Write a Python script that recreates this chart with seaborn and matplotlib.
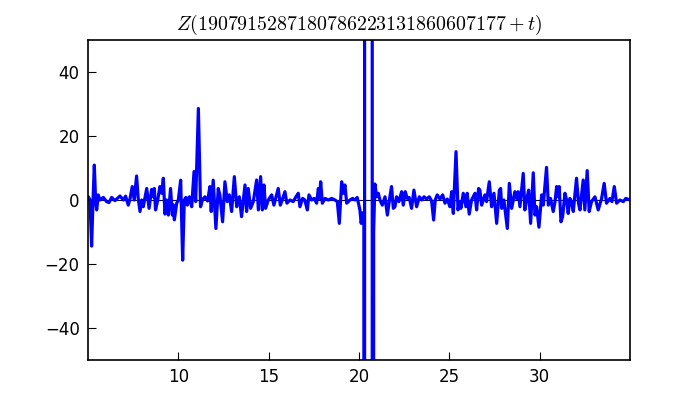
import matplotlib
matplotlib.use("Agg")
import matplotlib.pyplot as plt
import seaborn as sns
import pandas as pd

t_values = [
    5.00, 5.02, 5.11, 5.20, 5.28, 5.35, 5.42, 5.48, 5.57, 5.66, 5.85, 6.03, 6.16, 6.31, 6.49,
    6.77, 6.96, 7.08, 7.23, 7.33, 7.45, 7.56, 7.69, 7.78, 7.88, 7.97, 8.06, 8.25, 8.38, 8.52,
    8.60, 8.67, 8.74, 8.86, 8.98, 9.08, 9.17, 9.26, 9.35, 9.45, 9.57, 9.67, 9.72, 9.78, 9.91,
    10.00, 10.13, 10.24, 10.33, 10.42, 10.50, 10.61, 10.74, 10.87, 10.96, 11.11, 11.23, 11.33,
    11.47, 11.62, 11.75, 11.82, 11.93, 12.08, 12.21, 12.30,
    12.45, 12.58, 12.71, 12.82, 12.95, 13.10, 13.23, 13.375, 13.50, 13.69, 13.78, 13.87, 14.00,
    14.15, 14.335, 14.43, 14.555, 14.65, 14.74, 14.83, 14.98, 15.165, 15.29, 15.53, 15.645,
    15.75, 15.90, 16.01, 16.18, 16.36, 16.51, 16.64, 16.73, 16.88, 17.00, 17.14, 17.23, 17.38,
    17.52, 17.655, 17.75, 17.81, 17.88, 17.97, 18.12, 18.30, 18.49, 18.67, 18.80, 18.91, 19.04,
    19.13, 19.22, 19.32, 19.50, 19.65, 19.78, 19.90,
    20.05, 20.12, 20.20, 20.27, 20.30, 20.32, 20.72, 20.745, 20.81, 20.88, 20.976, 21.07, 21.16,
    21.29, 21.44, 21.57, 21.71, 21.80, 21.90, 21.99, 22.08, 22.21, 22.36, 22.45, 22.56, 22.67,
    22.78, 22.91, 23.04, 23.19, 23.34, 23.47, 23.60, 23.74, 23.89, 24.02, 24.13, 24.22, 24.33,
    24.48, 24.63, 24.76, 24.89, 25.03, 25.13, 25.22, 25.37, 25.48, 25.57, 25.64, 25.77, 25.92,
    25.99, 26.10, 26.23, 26.42, 26.51, 26.62, 26.69, 26.79, 26.97, 27.06, 27.21, 27.34, 27.47,
    27.62, 27.77, 27.84, 27.90, 28.02, 28.21, 28.32, 28.45, 28.63, 28.72, 28.81, 28.91, 29.09,
    29.18, 29.28, 29.39, 29.50, 29.645, 29.74, 29.83, 29.96, 30.11, 30.20, 30.38, 30.48, 30.60,
    30.75, 30.85, 30.94, 31.03, 31.08, 31.18, 31.27, 31.40, 31.49, 31.58, 31.67, 31.76, 31.86,
    32.04, 32.15, 32.23, 32.41, 32.50, 32.63, 32.74, 32.87, 33.06, 33.24, 33.43, 33.57, 33.70,
    33.89, 34.00, 34.13, 34.26, 34.44, 34.63, 34.77, 35.00,
]

z_values = [
    0.5, 1.0, 0.0, -14.4, 0.0, 10.9, 0.0, -3.1, 1.6, 0.0, 0.8, -0.5, -0.8, 0.8, -0.2,
    1.25, 0.0, 1.2, -1.6, 0.5, 4.2, 0.0, 7.5, 0.5, -3.6, 0.0, -2.1, 3.6, -2.6, 3.3,
    1.0, 3.6, -3.1, 0.0, 4.2, 2.1, 6.8, -4.4, 0.0, -4.7, 3.6, -4.7, -1.5, -6.2, -1.0,
    0.0, 6.2, -18.8, 0.0, 0.8, -1.6, 1.0, -2.1, 8.9, -0.5, 28.6, -2.1, 0.0,
    1.0, -0.3, 4.2, -3.6, 6.2, -8.9, 3.6, 1.5,
    -6.8, 5.7, -0.5, 1.6, -3.6, 7.3, -2.1, 1.0, -5.2, 4.7, -3.6, 3.6, -2.6,
    -0.5, 6.25, -3.1, 7.3, -3.1, 4.7, -2.6, 0.0, 1.6, -1.6, 3.6, -1.6,
    0.0, 2.6, -1.0, 0.0, -0.5, 1.0, 2.1, -2.1, 0.5, 0.0, -3.1, 1.6, 0.0,
    0.5, -1.0, 3.6, 0.5, 5.7, -1.0, 0.5, 0.0, 0.5, 0.0, -0.5, -7.3, 5.7,
    2.1, 4.7, -1.0, 0.0, 0.5, 0.0, 0.8,
    -3.1, -7.3, -4.0, -8.0, -3000.0, 3000.0, 3000.0, -3000.0, -10.0, 5.0, 1.0, 2.1, 0.0,
    -1.6, 1.0, -4.7, 1.0, 4.2, -2.6, -2.1, 1.0, -0.5, 2.6, -1.6, 2.6, 0.5,
    0.8, -2.6, 3.1, -2.1, 1.0, 0.0, 1.0, 0.3, 1.0, -0.3, -6.25, 0.0, 1.6,
    0.3, 1.6, -1.0, 0.3, -2.1, 2.6, -4.2, 15.1, -3.1, -0.5, -2.6, 2.1, -2.1,
    2.1, -4.4, 0.0, 2.1, -3.1, 3.6, 3.1, -1.6, 1.6, -0.5, 5.7, -2.1, 2.1,
    -7.3, 3.1, 3.6, -2.6, 0.0, -8.9, 5.2, -2.6, 2.6, 0.5, 2.6, -2.1, 8.3,
    -3.1, 0.0, 3.1, -7.3, 8.5, -4.7, -2.1, -8.5, 1.6, -1.6, 10.2, -1.6, 0.5,
    -3.6, -0.5, 4.2, 1.0, 4.2, -6.8, -5.2, 2.1, 0.0, -4.2, 0.5, -0.5, -3.6,
    6.8, -1.0, -3.1, 6.25, -3.1, 9.2, -3.6, -0.5, 1.0, -3.1, 0.5, 5.2, -1.0,
    0.5, -0.5, 4.2, -1.0, 0.0, -0.5, 0.5, 0.0,
]

title_text = r"$Z(1907915287180786223131860607177+t)$"
x_ticks = [10, 15, 20, 25, 30]
y_ticks = [-40, -20, 0, 20, 40]

sns.set_style("white")
plt.rcParams["font.family"] = ["DejaVu Sans"]
plt.rcParams["mathtext.fontset"] = "cm"
plt.rcParams["text.color"] = "black"

df = pd.DataFrame({"t": t_values, "Z": z_values})

fig = plt.figure(figsize=(7, 4), dpi=100)
ax = fig.add_axes([0.1257, 0.1, 0.7743, 0.8])

sns.lineplot(data=df, x="t", y="Z", ax=ax, color="#0000ff", linewidth=2.3,
             estimator=None, sort=False)
ax.axhline(0, color="black", linewidth=0.8, zorder=1)

ax.set_xlim(5.0, 35.0)
ax.set_ylim(-50, 50)
ax.set_xticks(x_ticks)
ax.set_yticks(y_ticks)
ax.set_xlabel("")
ax.set_ylabel("")
ax.tick_params(axis="both", direction="in", length=6, width=0.8, color="black",
               labelcolor="black", labelsize=12, bottom=True, left=True,
               top=False, right=False, pad=6)
for s in ax.spines.values():
    s.set_color("black")
    s.set_linewidth(1.2)
ax.set_title(title_text, fontsize=14.3, pad=7, color="black")

fig.savefig("out.png", dpi=100)
